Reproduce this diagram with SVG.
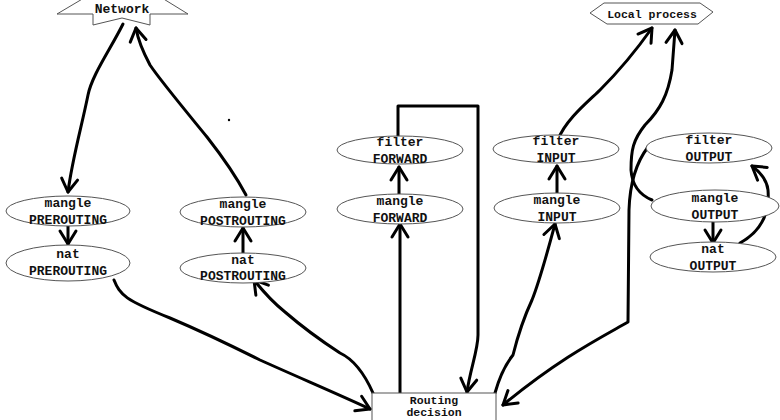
<svg xmlns="http://www.w3.org/2000/svg" width="780" height="420" viewBox="0 0 780 420">
<style>
.shape{fill:#fff;stroke:#555;stroke-width:1}
.t{font-family:"Liberation Mono","DejaVu Sans Mono",monospace;font-weight:bold;font-size:13px;fill:#111;text-anchor:middle}
.c{fill:none;stroke:#000;stroke-width:3;stroke-linecap:round;stroke-linejoin:round}
</style>
<defs>
<marker id="ah" markerUnits="userSpaceOnUse" markerWidth="30" markerHeight="30" refX="0" refY="0" viewBox="-15 -15 30 30" orient="auto" overflow="visible">
<path d="M-13,-8 L0,0 L-13,8" fill="none" stroke="#000" stroke-width="3" stroke-linecap="round" stroke-linejoin="round"/>
</marker>
</defs>
<rect width="780" height="420" fill="#fff"/>
<g id="connectors">
<path class="c" marker-end="url(#ah)" d="M123,24 C110,50 92,75 88,95 C82,125 72,160 68,192"/>
<path class="c" marker-end="url(#ah)" d="M246,195 C238,180 225,160 207,137 C185,110 160,80 150,65 C142,50 138,40 136,28"/>
<path class="c" marker-end="url(#ah)" d="M68,226 L68,244"/>
<path class="c" marker-end="url(#ah)" d="M114,280 C120,295 125,300 170,318 C210,335 230,345 260,360 C300,378 340,395 370,409"/>
<path class="c" marker-end="url(#ah)" d="M373,393 C365,375 355,360 340,353 C320,340 300,325 285,312 C270,300 262,290 254,280"/>
<path class="c" marker-end="url(#ah)" d="M243,254 L243,228"/>
<path class="c" marker-end="url(#ah)" d="M400,393 L400,224"/>
<path class="c" marker-end="url(#ah)" d="M399,194 L399,167"/>
<path class="c" marker-end="url(#ah)" d="M398,138 L398,106 L478,106 L478,335 C478,350 470,370 467,392"/>
<path class="c" marker-end="url(#ah)" d="M495,393 C500,375 505,365 513,355 C518,335 525,315 532,300 C540,280 548,250 555,224"/>
<path class="c" marker-end="url(#ah)" d="M557,194 L557,166"/>
<path class="c" marker-end="url(#ah)" d="M558,140 C565,120 590,100 600,90 C620,70 640,45 652,28"/>
<path class="c" marker-end="url(#ah)" d="M652,200 C640,195 632,185 631,170 C631,150 633,140 645,125 C660,110 668,95 672,70 L675,30"/>
<path class="c" marker-end="url(#ah)" d="M648,147 C638,160 630,180 629,210 L628,322 C600,338 560,358 503,405"/>
<path class="c" marker-end="url(#ah)" d="M713,216 L713,243"/>
<path class="c" marker-end="url(#ah)" d="M740,243 C760,232 770,215 768,190 C767,180 760,172 752,166"/>
</g>
<circle cx="229" cy="120" r="1.2" fill="#000"/>
<g id="network">
<polygon class="shape" points="57,14 84,-2 162,-2 188,14 150,14 150,25 122,18 93,25 93,14"/>
<text class="t" x="122" y="13">Network</text>
</g>
<g id="local-process">
<polygon class="shape" points="590,13 604,3 700,3 713,12 698,24 607,24"/>
<text class="t" x="652" y="18" style="font-size:11.5px">Local process</text>
</g>
<g id="mangle-prerouting">
<ellipse class="shape" cx="68" cy="211" rx="62" ry="15"/>
<text class="t" x="68" y="207">mangle</text>
<text class="t" x="68" y="224">PREROUTING</text>
</g>
<g id="nat-prerouting">
<ellipse class="shape" cx="68" cy="263" rx="62" ry="18"/>
<text class="t" x="68" y="258">nat</text>
<text class="t" x="68" y="275">PREROUTING</text>
</g>
<g id="mangle-postrouting">
<ellipse class="shape" cx="243" cy="212" rx="63" ry="15"/>
<text class="t" x="243" y="208">mangle</text>
<text class="t" x="243" y="225">POSTROUTING</text>
</g>
<g id="nat-postrouting">
<ellipse class="shape" cx="243" cy="268" rx="63" ry="15"/>
<text class="t" x="243" y="264">nat</text>
<text class="t" x="243" y="280">POSTROUTING</text>
</g>
<g id="filter-forward">
<ellipse class="shape" cx="400" cy="150" rx="63" ry="14"/>
<text class="t" x="400" y="146">filter</text>
<text class="t" x="400" y="163">FORWARD</text>
</g>
<g id="mangle-forward">
<ellipse class="shape" cx="400" cy="209" rx="63" ry="15"/>
<text class="t" x="400" y="205">mangle</text>
<text class="t" x="400" y="222">FORWARD</text>
</g>
<g id="filter-input">
<ellipse class="shape" cx="556" cy="149" rx="63" ry="14"/>
<text class="t" x="556" y="145">filter</text>
<text class="t" x="556" y="162">INPUT</text>
</g>
<g id="mangle-input">
<ellipse class="shape" cx="557" cy="208" rx="63" ry="15"/>
<text class="t" x="557" y="204">mangle</text>
<text class="t" x="557" y="221">INPUT</text>
</g>
<g id="filter-output">
<ellipse class="shape" cx="709" cy="148" rx="63" ry="15"/>
<text class="t" x="709" y="144">filter</text>
<text class="t" x="709" y="161">OUTPUT</text>
</g>
<g id="mangle-output">
<ellipse class="shape" cx="715" cy="206" rx="64" ry="16"/>
<text class="t" x="715" y="202">mangle</text>
<text class="t" x="715" y="219">OUTPUT</text>
</g>
<g id="nat-output">
<ellipse class="shape" cx="713" cy="257" rx="63" ry="15"/>
<text class="t" x="713" y="253">nat</text>
<text class="t" x="713" y="270">OUTPUT</text>
</g>
<g id="routing-decision">
<rect class="shape" x="372" y="393" width="124" height="40"/>
<text class="t" x="434" y="404" style="font-size:11.5px">Routing</text>
<text class="t" x="434" y="416" style="font-size:11.5px">decision</text>
</g>
</svg>
